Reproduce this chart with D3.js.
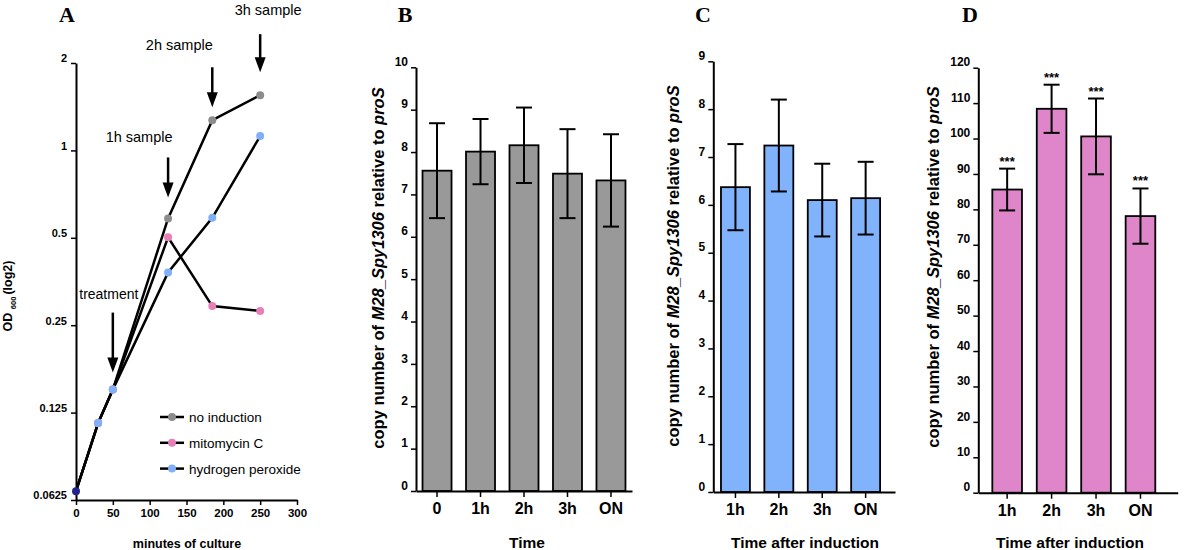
<!DOCTYPE html>
<html><head><meta charset="utf-8">
<script src="https://cdn.jsdelivr.net/npm/d3@7"></script>
<style>
body{margin:0;background:#fff}
svg{display:block}
text{fill:#000}
</style>
</head><body>
<svg id="c" width="1200" height="550" font-family="'Liberation Sans',Arial,sans-serif"></svg>
<script>
// ---------- Panel A data ----------
const minutes = [0, 30, 50, 125, 185, 250];
const odNoInduction = [0.067, 0.115, 0.150, 0.583, 1.27, 1.55];
const odMitomycin   = [0.067, 0.115, 0.150, 0.502, 0.291, 0.28];
const odPeroxide    = [0.067, 0.115, 0.150, 0.38, 0.586, 1.12];
const seriesNames = ["no induction", "mitomycin C", "hydrogen peroxide"];
const odTicks = [0.0625, 0.125, 0.25, 0.5, 1, 2];
const odTickLabels = ["0.0625", "0.125", "0.25", "0.5", "1", "2"];
const minuteTicks = [0, 50, 100, 150, 200, 250, 300];
const annotationLabels = ["treatment", "1h sample", "2h sample", "3h sample"];
const annotationMinutes = [50, 125, 185, 250];

// ---------- Panel B data ----------
const catB = ["0", "1h", "2h", "3h", "ON"];
const meanB = [7.56, 8.01, 8.16, 7.49, 7.33];
const errB = [1.12, 0.77, 0.89, 1.05, 1.09];
const ticksB = [0, 1, 2, 3, 4, 5, 6, 7, 8, 9, 10];

// ---------- Panel C data ----------
const catC = ["1h", "2h", "3h", "ON"];
const meanC = [6.37, 7.24, 6.10, 6.14];
const errC = [0.90, 0.96, 0.76, 0.76];
const ticksC = [0, 1, 2, 3, 4, 5, 6, 7, 8, 9];

// ---------- Panel D data ----------
const catD = ["1h", "2h", "3h", "ON"];
const meanD = [85.6, 108.4, 100.6, 78.1];
const errD = [5.9, 6.8, 10.7, 7.8];
const sigD = ["***", "***", "***", "***"];
const ticksD = [0, 10, 20, 30, 40, 50, 60, 70, 80, 90, 100, 110, 120];

const svg = d3.select("#c");
const SANS = "'Liberation Sans',Arial,sans-serif";
const SERIF = "'Liberation Serif','Times New Roman',serif";

function styleAxis(g, fs) {
  g.attr("font-family", SANS);
  g.select(".domain").attr("stroke", "#000").attr("stroke-width", 2);
  g.selectAll(".tick line").attr("stroke", "#000").attr("stroke-width", 1.5);
  g.selectAll(".tick text").attr("font-weight", "bold").attr("font-size", fs).attr("fill", "#000");
}

function panelLetter(x, s) {
  svg.append("text").attr("x", x).attr("y", 22).attr("text-anchor", "middle")
    .style("font-family", SERIF).style("font-weight", "bold").style("font-size", "22px").text(s);
}

// ================= Panel A =================
const xA = d3.scaleLinear().domain([0, 300]).range([76, 297]);
const yA = d3.scaleLog().base(2).domain([0.0625, 2]).range([500, 63]);

panelLetter(67, "A");

const gAy = svg.append("g").attr("transform", "translate(76,0)")
  .call(d3.axisLeft(yA).tickValues(odTicks).tickFormat((d, i) => odTickLabels[i]).tickSize(5).tickSizeOuter(0).tickPadding(4));
styleAxis(gAy, 11);
gAy.selectAll(".tick text").attr("dy", "-0.1em");

const gAx = svg.append("g").attr("transform", "translate(0,500)")
  .call(d3.axisBottom(xA).tickValues(minuteTicks).tickSize(5).tickSizeOuter(0).tickPadding(4));
styleAxis(gAx, 11.5);

// y title with subscript
const odTitle = svg.append("text").attr("transform", "translate(12,296) rotate(-90)")
  .attr("text-anchor", "middle").attr("font-weight", "bold").attr("font-size", 12.5);
odTitle.append("tspan").text("OD ");
odTitle.append("tspan").attr("font-size", 7.5).attr("dy", 4).text(" 600 ");
odTitle.append("tspan").attr("dy", -4).text(" (log2)");

svg.append("text").attr("x", 187).attr("y", 548).attr("text-anchor", "middle")
  .attr("font-weight", "bold").attr("font-size", 12.5).text("minutes of culture");

const seriesA = [odNoInduction, odMitomycin, odPeroxide];
const colorsA = ["#8c8c8c", "#e87fb6", "#7fb0f9"];
const lineA = d3.line().x((d, i) => xA(minutes[i])).y(d => yA(d));
seriesA.forEach(s => {
  svg.append("path").attr("d", lineA(s)).attr("fill", "none").attr("stroke", "#000").attr("stroke-width", 2.5);
});
seriesA.forEach((s, k) => {
  svg.append("g").selectAll("circle").data(s.slice(1)).join("circle")
    .attr("cx", (d, i) => xA(minutes[i + 1])).attr("cy", d => yA(d)).attr("r", 4)
    .attr("fill", colorsA[k]);
});
svg.append("circle").attr("cx", xA(minutes[0])).attr("cy", yA(odPeroxide[0])).attr("r", 4).attr("fill", "#22228e");

// annotations (arrows)
const annTipGap = [17, 21, 13, 23];
const annLen = [60, 40, 40, 38];
const annTopSeries = [odPeroxide, odNoInduction, odNoInduction, odNoInduction];
const annTextDx = [-4, -29, -33, 8];
const annTextGap = [14, 15, 17, 19];
annotationMinutes.forEach((m, i) => {
  const idx = minutes.indexOf(m);
  const x = xA(m);
  const tip = yA(annTopSeries[i][idx]) - annTipGap[i];
  const tail = tip - annLen[i];
  svg.append("line").attr("x1", x).attr("x2", x).attr("y1", tail).attr("y2", tip - 12)
    .attr("stroke", "#000").attr("stroke-width", 2.5);
  svg.append("path").attr("d", `M${x - 5.5},${tip - 15}L${x + 5.5},${tip - 15}L${x},${tip}Z`).attr("fill", "#000");
  svg.append("text").attr("x", x + annTextDx[i]).attr("y", tail - annTextGap[i])
    .attr("text-anchor", "middle").attr("font-size", i === 0 ? 14 : 14.5).text(annotationLabels[i]);
});

// legend
seriesNames.forEach((n, i) => {
  const y = 417 + i * 25.8;
  svg.append("line").attr("x1", 160).attr("x2", 184).attr("y1", y).attr("y2", y).attr("stroke", "#000").attr("stroke-width", 2.5);
  svg.append("circle").attr("cx", 172).attr("cy", y).attr("r", 4).attr("fill", colorsA[i]);
  svg.append("text").attr("x", 189).attr("y", y + 5).attr("font-size", 13.5).text(n);
});

// ================= Bar panels =================
function barPanel(cfg) {
  const x = d3.scaleBand().domain(cfg.cats).range(cfg.xr).paddingInner(0.333).paddingOuter(cfg.po).align(cfg.align);
  const y = d3.scaleLinear().domain(cfg.yd).range(cfg.yr);

  panelLetter(cfg.labelX, cfg.letter);

  svg.append("g").selectAll("rect").data(cfg.means).join("rect")
    .attr("x", (d, i) => x(cfg.cats[i])).attr("width", x.bandwidth())
    .attr("y", d => y(d)).attr("height", d => y(0) - y(d))
    .attr("fill", cfg.color).attr("stroke", "#000").attr("stroke-width", 1.8);

  const eg = svg.append("g");
  cfg.means.forEach((m, i) => {
    const cx = x(cfg.cats[i]) + x.bandwidth() / 2;
    const hi = y(m + cfg.errs[i]), lo = y(m - cfg.errs[i]);
    eg.append("line").attr("x1", cx).attr("x2", cx).attr("y1", hi).attr("y2", lo).attr("stroke", "#000").attr("stroke-width", 2);
    eg.append("line").attr("x1", cx - 8).attr("x2", cx + 8).attr("y1", hi).attr("y2", hi).attr("stroke", "#000").attr("stroke-width", 2);
    eg.append("line").attr("x1", cx - 8).attr("x2", cx + 8).attr("y1", lo).attr("y2", lo).attr("stroke", "#000").attr("stroke-width", 2);
    if (cfg.sig) {
      svg.append("text").attr("x", cx).attr("y", hi - 3).attr("text-anchor", "middle")
        .attr("font-weight", "bold").attr("font-size", 13).text(cfg.sig[i]);
    }
  });

  const gy = svg.append("g").attr("transform", `translate(${cfg.xr[0]},0)`)
    .call(d3.axisLeft(y).tickValues(cfg.ticks).tickSize(5).tickSizeOuter(0).tickPadding(3));
  styleAxis(gy, 12);
  gy.selectAll(".tick text").attr("dy", "-0.15em");

  const gx = svg.append("g").attr("transform", `translate(0,${cfg.yr[0]})`)
    .call(d3.axisBottom(x).tickSize(6).tickSizeOuter(0).tickPadding(6));
  styleAxis(gx, 16);

  const t = svg.append("text").attr("transform", `translate(${cfg.titleX},${cfg.titleY}) rotate(-90)`)
    .attr("text-anchor", "middle").attr("font-weight", "bold").attr("font-size", 16.5);
  t.append("tspan").text("copy number of ");
  t.append("tspan").attr("font-style", "italic").text("M28_Spy1306");
  t.append("tspan").text(" relative to ");
  t.append("tspan").attr("font-style", "italic").text("proS");

  svg.append("text").attr("x", cfg.xTitleX).attr("y", 548).attr("text-anchor", "middle")
    .attr("font-weight", "bold").attr("font-size", 15.5).text(cfg.xTitle);
}

barPanel({letter: "B", labelX: 405, cats: catB, means: meanB, errs: errB, ticks: ticksB,
  xr: [416, 632], po: 0.15, align: 0.5, yd: [0, 10], yr: [491, 67.3], color: "#999999",
  titleX: 384, titleY: 268, xTitle: "Time", xTitleX: 527});
barPanel({letter: "C", labelX: 703, cats: catC, means: meanC, errs: errC, ticks: ticksC,
  xr: [713.3, 895], po: 0.26, align: 0.34, yd: [0, 9], yr: [492, 61.3], color: "#80b3fc",
  titleX: 679, titleY: 266, xTitle: "Time after induction", xTitleX: 805});
barPanel({letter: "D", labelX: 970, cats: catD, means: meanD, errs: errD, ticks: ticksD, sig: sigD,
  xr: [978.3, 1177.7], po: 0.41, align: 0.385, yd: [0, 120], yr: [492.7, 67.7], color: "#df86ca",
  titleX: 939, titleY: 267, xTitle: "Time after induction", xTitleX: 1070});
</script>
</body></html>
